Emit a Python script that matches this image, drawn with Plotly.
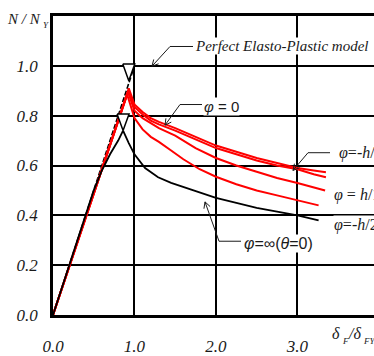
import math
import plotly.graph_objects as go

# ---------------- data ----------------
ep_x = [0.0, 1.0, 3.94]
ep_y = [0.0, 1.0, 1.0]

red_a_x = [0.0, 0.93, 1.0, 1.1, 1.2, 1.3, 1.5, 1.75, 2.0, 2.25, 2.5, 2.75, 3.0, 3.2, 3.35]
red_a_y = [0.0, 0.91, 0.845, 0.815, 0.79, 0.775, 0.75, 0.715, 0.68, 0.655, 0.63, 0.61, 0.59, 0.58, 0.573]
red_b_x = [0.0, 0.925, 1.0, 1.1, 1.2, 1.3, 1.5, 1.75, 2.0, 2.25, 2.5, 2.75, 3.0, 3.2, 3.35]
red_b_y = [0.0, 0.90, 0.835, 0.805, 0.78, 0.765, 0.74, 0.705, 0.67, 0.645, 0.62, 0.60, 0.585, 0.565, 0.553]
red_c_x = [0.0, 0.92, 1.0, 1.1, 1.2, 1.3, 1.5, 1.75, 2.0, 2.25, 2.5, 2.75, 3.0, 3.2, 3.34]
red_c_y = [0.0, 0.895, 0.82, 0.79, 0.77, 0.75, 0.72, 0.67, 0.63, 0.60, 0.575, 0.55, 0.53, 0.512, 0.50]
red_d_x = [0.0, 0.91, 1.0, 1.1, 1.2, 1.3, 1.45, 1.6, 1.8, 2.0, 2.25, 2.5, 2.75, 3.0, 3.26]
red_d_y = [0.0, 0.885, 0.79, 0.745, 0.715, 0.695, 0.66, 0.625, 0.585, 0.555, 0.525, 0.50, 0.48, 0.46, 0.44]
black_x = [0.0, 0.5, 0.6, 0.7, 0.8, 0.86, 0.93, 1.0, 1.13, 1.29, 1.45, 1.64, 2.0, 2.25, 2.5, 2.75, 3.0, 3.26]
black_y = [0.0, 0.5, 0.58, 0.645, 0.70, 0.74, 0.69, 0.645, 0.59, 0.553, 0.53, 0.51, 0.47, 0.45, 0.43, 0.415, 0.40, 0.38]

# yield points marked by triangles (tip position)
yield_x = [0.93, 0.86]
yield_y = [0.94, 0.74]

x_ticks = [0, 1, 2, 3]
x_ticktext = ["0.0", "1.0", "2.0", "3.0"]
y_ticks = [0, 0.2, 0.4, 0.6, 0.8, 1.0]
y_ticktext = ["0.0", "0.2", "0.4", "0.6", "0.8", "1.0"]

# --------------- layout helpers ---------------
W, H = 374, 356
L, R, T, B = 53, 0, 16, 36
XR = [0, 3.94]
YR = [0, 1.2]
pw, ph = W - L - R, H - T - B


def X(px):
    return XR[0] + (px - L) / pw * (XR[1] - XR[0])


def Y(py):
    return YR[0] + (H - B - py) / ph * (YR[1] - YR[0])


def PX(px):
    return (px - L) / pw


def PY(py):
    return (H - B - py) / ph


SERIF = "Liberation Serif"
SANS = "Liberation Sans"
INK = "#1a1a1a"

fig = go.Figure()

fig.add_trace(go.Scatter(x=ep_x, y=ep_y, mode="lines",
                         line=dict(color="black", width=1.6, dash="5px,2px")))
for xs, ys in [(red_d_x, red_d_y), (red_c_x, red_c_y), (red_b_x, red_b_y), (red_a_x, red_a_y)]:
    fig.add_trace(go.Scatter(x=xs, y=ys, mode="lines", line=dict(color="#ff0000", width=2)))
fig.add_trace(go.Scatter(x=black_x, y=black_y, mode="lines", line=dict(color="black", width=1.8)))

# triangles (tip at the yield point)
hw = 6 / pw * (XR[1] - XR[0])
hh = 17 / ph * (YR[1] - YR[0])
for tx, ty in zip(yield_x, yield_y):
    fig.add_trace(go.Scatter(x=[tx - hw, tx + hw, tx, tx - hw], y=[ty + hh, ty + hh, ty, ty + hh],
                             mode="lines", fill="toself", fillcolor="white",
                             line=dict(color="black", width=1.5)))

annos = []
shapes = []


def leader(head, elbow, end):
    # leader line: end -> elbow -> head, with an open arrowhead at head (pixel geometry)
    pts = [end, elbow, head]
    path = "M " + " L ".join(f"{X(p[0])},{Y(p[1])}" for p in pts)
    dx, dy = elbow[0] - head[0], elbow[1] - head[1]
    n = math.hypot(dx, dy)
    ux, uy = dx / n, dy / n
    a = math.radians(28)
    ln = 7
    wings = []
    for s in (1, -1):
        c, si = math.cos(s * a), math.sin(s * a)
        wx = head[0] + ln * (ux * c - uy * si)
        wy = head[1] + ln * (ux * si + uy * c)
        wings.append((wx, wy))
    path += f" M {X(wings[0][0])},{Y(wings[0][1])} L {X(head[0])},{Y(head[1])} L {X(wings[1][0])},{Y(wings[1][1])}"
    shapes.append(dict(type="path", xref="x", yref="y", path=path, line=dict(color=INK, width=1)))


def label(text, px, py, size, family=SERIF, bg="white", anchor="left"):
    annos.append(dict(x=PX(px), y=PY(py), xref="paper", yref="paper", text=text, showarrow=False,
                      xanchor=anchor, yanchor="middle", bgcolor=bg, borderpad=0,
                      font=dict(family=family, size=size, color=INK)))


leader((152, 67), (170, 47), (193, 47))
label("<i>Perfect Elasto-Plastic model</i>", 194, 47, 15)

leader((165, 127), (180, 106), (202, 106))
label("<i>φ</i> = 0", 203, 108, 15, family=SANS)

leader((293, 173), (308, 155), (330, 155))
label("<i>φ</i>=-<i>h</i>/10", 338, 155, 16)

label("<i>φ</i> = <i>h</i>/10", 333, 198, 16)
label("<i>φ</i>=-<i>h</i>/2", 333, 228, 16)

leader((205, 205), (219, 245), (241, 245))
label("<i>φ</i>=∞(<i>θ</i>=0)", 243, 247, 16, family=SANS)

# axis titles (subscripts placed as their own small labels)
NOBG = "rgba(0,0,0,0)"
label("<i>N / N</i>", 42, 19, 15, bg=NOBG, anchor="right")
label("<i>Y</i>", 42, 25, 9, bg=NOBG)
label("<i>δ</i>", 341, 339, 16, bg=NOBG, anchor="right")
label("<i>F</i>", 341, 346, 9, bg=NOBG)
label("<i>/δ</i>", 362, 339, 16, bg=NOBG, anchor="right")
label("<i>FY</i>", 362, 346, 9, bg=NOBG)

fig.update_layout(
    width=W, height=H,
    margin=dict(l=L, r=R, t=T, b=B, pad=0),
    paper_bgcolor="white", plot_bgcolor="white",
    showlegend=False,
    annotations=annos, shapes=shapes,
    xaxis=dict(range=XR, tickvals=x_ticks, ticktext=x_ticktext, showgrid=True,
               gridcolor="black", gridwidth=1.5, showline=True, linecolor="black",
               linewidth=2.5, mirror=True, zeroline=False, ticks="", ticklabelstandoff=14,
               tickfont=dict(family=SERIF, size=17, color=INK, style="italic"), fixedrange=True),
    yaxis=dict(range=YR, tickvals=y_ticks, ticktext=y_ticktext, showgrid=True,
               gridcolor="black", gridwidth=1.5, showline=True, linecolor="black",
               linewidth=2.5, zeroline=False, ticks="", ticklabelstandoff=9,
               tickfont=dict(family=SERIF, size=17, color=INK, style="italic"), fixedrange=True),
)

fig.write_html("out.html")
